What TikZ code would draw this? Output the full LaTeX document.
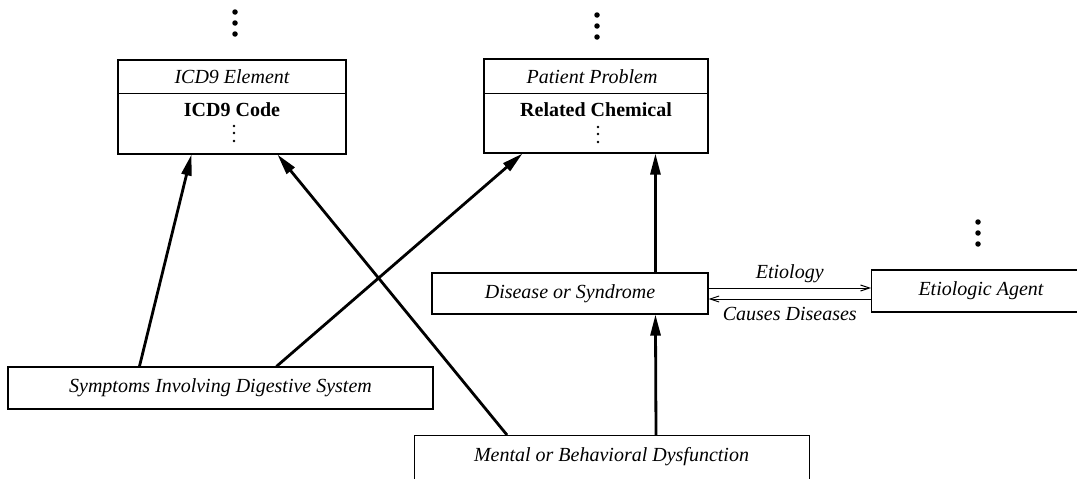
\documentclass[tikz,border=0pt]{standalone}
\usepackage{fontspec}
\setmainfont{Liberation Serif}
\usetikzlibrary{arrows.meta,calc}
\begin{document}
\begin{tikzpicture}[x=1pt,y=-1pt,
  box/.style={draw, line width=1.1pt, inner sep=0pt},
  lbl/.style={font=\itshape\fontsize{20}{24}\selectfont, inner sep=0pt},
  bold/.style={font=\bfseries\fontsize{20}{24}\selectfont, inner sep=0pt},
  link/.style={line width=2.8pt, -{Triangle[length=21pt,width=10pt]}},
  rel/.style={line width=1pt, -{Straight Barb[length=9pt,width=6pt]}},
  bigdot/.style={circle, fill, inner sep=0pt, minimum size=5.5pt},
  smalldot/.style={circle, fill, inner sep=0pt, minimum size=2.8pt}]
\useasboundingbox (0,0) rectangle (1077,479);
\clip (0,0) rectangle (1077,479);

% ICD9 class box
\node[box, minimum width=228pt, minimum height=94pt] (icd) at (232,107) {};
\draw[line width=1.1pt] ($(icd.north west)+(0,34)$) -- ($(icd.north east)+(0,34)$);
\node[lbl] (icdtitle) at (232,77) {ICD9 Element};
\node[bold] (icdcode) at (232,110) {ICD9 Code};
\node[smalldot] (icdv1) at (234,126) {};
\node[smalldot] (icdv2) at (234,133) {};
\node[smalldot] (icdv3) at (234,141) {};
\node[bigdot] (icdd1) at (235,12) {};
\node[bigdot] (icdd2) at (235,23) {};
\node[bigdot] (icdd3) at (235,34) {};

% Patient Problem class box
\node[box, minimum width=224pt, minimum height=94pt] (pp) at (596,106) {};
\draw[line width=1.1pt] ($(pp.north west)+(0,35)$) -- ($(pp.north east)+(0,35)$);
\node[lbl] (pptitle) at (592,77) {Patient Problem};
\node[bold] (ppchem) at (596,110) {Related Chemical};
\node[smalldot] (ppv1) at (598,127) {};
\node[smalldot] (ppv2) at (598,134) {};
\node[smalldot] (ppv3) at (598,142) {};
\node[bigdot] (ppd1) at (597,15) {};
\node[bigdot] (ppd2) at (597,26) {};
\node[bigdot] (ppd3) at (597,37) {};

% Disease or Syndrome
\node[box, lbl, minimum width=276pt, minimum height=41pt] (dis) at (570,293.5) {Disease or Syndrome};

% Etiologic Agent (runs past the right edge)
\node[box, minimum width=230pt, minimum height=42pt, anchor=west] (eti) at (871,291) {};
\node[lbl] (etitext) at (981,291) {Etiologic Agent};
\node[bigdot] (etid1) at (978,222) {};
\node[bigdot] (etid2) at (978,233) {};
\node[bigdot] (etid3) at (978,244) {};

% Symptoms Involving Digestive System
\node[box, lbl, minimum width=425pt, minimum height=42pt] (sym) at (220.5,388) {Symptoms Involving Digestive System};

% Mental or Behavioral Dysfunction (runs past the bottom edge)
\node[box, minimum width=395pt, minimum height=60pt, anchor=north west] (men) at (414,435) {};
\node[lbl] (mentext) at (611.5,457) {Mental or Behavioral Dysfunction};

% is-a links
\draw[link] ([xshift=132pt]sym.north west) -- ([xshift=74pt]icd.south west);
\draw[link] ([xshift=269pt]sym.north west) -- ([xshift=39pt]pp.south west);
\draw[link] ([xshift=93pt]men.north west) -- ([xshift=160pt]icd.south west);
\draw[link] ([xshift=224pt]dis.north west) -- ([xshift=172pt]pp.south west);
\draw[link] ([xshift=242pt]men.north west) -- ([xshift=224pt]dis.south west);

% relations between Disease or Syndrome and Etiologic Agent
\coordinate (etiStart) at ([yshift=5.5pt]dis.east);
\coordinate (causeEnd) at ([yshift=-5.5pt]dis.east);
\draw[rel] (etiStart) -- node[lbl, above=5pt] (etilbl) {Etiology} (etiStart -| eti.west);
\draw[rel] (causeEnd -| eti.west) -- node[lbl, below=8pt] (causelbl) {Causes Diseases} (causeEnd);
\end{tikzpicture}
\end{document}
